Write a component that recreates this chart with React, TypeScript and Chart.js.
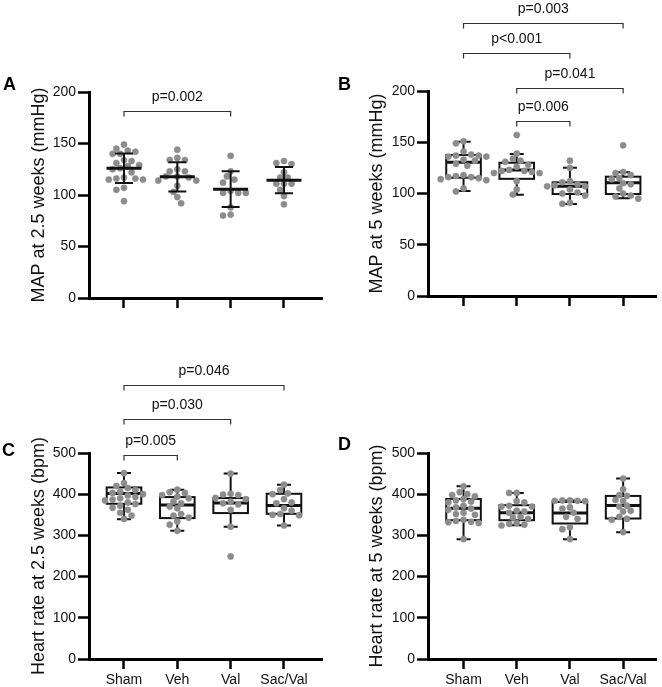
import React, { useEffect, useRef } from 'react';
import { Chart, registerables } from 'chart.js';

Chart.register(...registerables);

const FONT = "'Liberation Sans', Arial, Helvetica, sans-serif";

const groups = ['Sham', 'Veh', 'Val', 'Sac/Val'];

// ---- A: MAP at 2.5 weeks (mmHg), mean ± SD ----
const mapWk25Sham = [149, 145, 143, 142, 140, 140, 134, 133, 131, 129, 128, 126, 125, 122, 117, 116, 116, 115, 115, 107, 105, 94];
const mapWk25Veh = [144, 136, 134, 134, 125, 123, 123, 118, 118, 117, 114, 114, 109, 103, 98, 92];
const mapWk25Val = [138, 123, 118, 115, 112, 104, 102, 102, 102, 88, 81, 80];
const mapWk25SacVal = [133, 131, 130, 122, 117, 117, 111, 111, 111, 105, 99, 91];
const mapWk25Mean = [126, 117.6, 105.7, 114.4];
const mapWk25Sd = [14.4, 14.3, 17.4, 12.7];

// ---- B: MAP at 5 weeks (mmHg), box & whiskers ----
const mapWk5Sham = [151, 149, 141, 138, 137, 137, 136, 136, 133, 132, 129, 127, 118, 117, 116, 116, 115, 114, 113, 105, 102];
const mapWk5Veh = [157, 139, 134, 132, 131, 128, 126, 123, 122, 122, 121, 120, 120, 112, 104, 99];
const mapWk5Val = [132, 125, 112, 111, 109, 108, 107, 107, 104, 101, 100, 98, 91, 90];
const mapWk5SacVal = [147, 121, 120, 118, 115, 114, 110, 109, 105, 100, 98, 97, 95];
const mapWk5Lo = [102.4, 98.8, 89.8, 95.3];
const mapWk5Q1 = [115.4, 114.3, 99.5, 99.5];
const mapWk5Med = [130.4, 122.9, 107, 110.5];
const mapWk5Q3 = [137.6, 130, 110.9, 116.4];
const mapWk5Hi = [150.5, 138.5, 125.2, 120.7];

// ---- C: Heart rate at 2.5 weeks (bpm) ----
const hrWk25Sham = [451, 427, 420, 415, 410, 406, 403, 400, 397, 393, 390, 387, 385, 380, 376, 372, 367, 362, 355, 348, 340];
const hrWk25Veh = [411, 405, 403, 398, 394, 390, 382, 378, 370, 366, 352, 348, 343, 334, 326, 311];
const hrWk25Val = [450, 401, 399, 398, 391, 388, 382, 378, 375, 362, 321, 249];
const hrWk25SacVal = [423, 410, 402, 400, 388, 380, 378, 366, 360, 352, 350, 349, 324];
const hrWk25Lo = [339.5, 311.1, 320.9, 324];
const hrWk25Q1 = [376.8, 342, 354.2, 352.4];
const hrWk25Med = [401.8, 373.6, 378.4, 372.7];
const hrWk25Q3 = [416.4, 393, 390.6, 401];
const hrWk25Hi = [451.4, 410.8, 450.4, 423];

// ---- D: Heart rate at 5 weeks (bpm) ----
const hrWk5Sham = [419, 405, 400, 398, 395, 388, 385, 382, 380, 372, 368, 365, 362, 355, 352, 350, 338, 335, 333, 332, 330, 291];
const hrWk5Veh = [403, 403, 383, 380, 372, 370, 370, 360, 358, 355, 345, 343, 340, 330, 328, 326, 324];
const hrWk5Val = [385, 385, 384, 384, 383, 368, 365, 355, 345, 340, 320, 315, 291];
const hrWk5SacVal = [438, 412, 398, 396, 386, 384, 372, 370, 360, 358, 345, 340, 338, 308];
const hrWk5Lo = [290.8, 324.8, 290.8, 307.8];
const hrWk5Q1 = [336.9, 336.9, 328.9, 341];
const hrWk5Med = [366, 355, 354.2, 372.5];
const hrWk5Q3 = [388.5, 373.3, 381.3, 395.8];
const hrWk5Hi = [419.3, 403, 384.6, 438];

// ---- significance brackets: group indices, bracket height (axis units), label ----
const bracketsA = [{ from: 0, to: 2, level: 181.6, label: 'p=0.002' }];
const bracketsB = [
  { from: 0, to: 3, level: 266.6, label: 'p=0.003' },
  { from: 0, to: 2, level: 236.8, label: 'p<0.001' },
  { from: 1, to: 3, level: 202.6, label: 'p=0.041' },
  { from: 1, to: 2, level: 171, label: 'p=0.006' },
];
const bracketsC = [
  { from: 0, to: 3, level: 664, label: 'p=0.046' },
  { from: 0, to: 2, level: 583.4, label: 'p=0.030' },
  { from: 0, to: 1, level: 494.2, label: 'p=0.005' },
];

type Bracket = { from: number; to: number; level: number; label: string };
type Summary =
  | { kind: 'mean'; mean: number[]; sd: number[] }
  | { kind: 'box'; lo: number[]; q1: number[]; med: number[]; q3: number[]; hi: number[] };

type PanelDef = {
  letter: string;
  yTitle: string;
  yMax: number;
  yStep: number;
  series: number[][];
  summary: Summary;
  brackets: Bracket[];
  showXLabels: boolean;
  frame: { left: number; top: number; width: number; height: number };
  area: { left: number; right: number; top: number; bottom: number };
  xMin: number;
  xMax: number;
  letterPos: { x: number; y: number };
  titlePad: number;
};

const panels: PanelDef[] = [
  {
    letter: 'A',
    yTitle: 'MAP at 2.5 weeks (mmHg)',
    yMax: 200,
    yStep: 50,
    series: [mapWk25Sham, mapWk25Veh, mapWk25Val, mapWk25SacVal],
    summary: { kind: 'mean', mean: mapWk25Mean, sd: mapWk25Sd },
    brackets: bracketsA,
    showXLabels: false,
    frame: { left: 0, top: 0, width: 331, height: 335 },
    area: { left: 89, right: 322, top: 92, bottom: 298 },
    xMin: -0.656,
    xMax: 3.713,
    letterPos: { x: 3, y: 89.5 },
    titlePad: 28,
  },
  {
    letter: 'B',
    yTitle: 'MAP at 5 weeks (mmHg)',
    yMax: 200,
    yStep: 50,
    series: [mapWk5Sham, mapWk5Veh, mapWk5Val, mapWk5SacVal],
    summary: { kind: 'box', lo: mapWk5Lo, q1: mapWk5Q1, med: mapWk5Med, q3: mapWk5Q3, hi: mapWk5Hi },
    brackets: bracketsB,
    showXLabels: false,
    frame: { left: 331, top: 0, width: 331, height: 335 },
    area: { left: 97, right: 325, top: 91, bottom: 296 },
    xMin: -0.668,
    xMax: 3.618,
    letterPos: { x: 7, y: 89.5 },
    titlePad: 35.5,
  },
  {
    letter: 'C',
    yTitle: 'Heart rate at 2.5 weeks (bpm)',
    yMax: 500,
    yStep: 100,
    series: [hrWk25Sham, hrWk25Veh, hrWk25Val, hrWk25SacVal],
    summary: { kind: 'box', lo: hrWk25Lo, q1: hrWk25Q1, med: hrWk25Med, q3: hrWk25Q3, hi: hrWk25Hi },
    brackets: bracketsC,
    showXLabels: true,
    frame: { left: 0, top: 335, width: 331, height: 352 },
    area: { left: 89, right: 322, top: 118, bottom: 324 },
    xMin: -0.656,
    xMax: 3.713,
    letterPos: { x: 2, y: 121 },
    titlePad: 28,
  },
  {
    letter: 'D',
    yTitle: 'Heart rate at 5 weeks (bpm)',
    yMax: 500,
    yStep: 100,
    series: [hrWk5Sham, hrWk5Veh, hrWk5Val, hrWk5SacVal],
    summary: { kind: 'box', lo: hrWk5Lo, q1: hrWk5Q1, med: hrWk5Med, q3: hrWk5Q3, hi: hrWk5Hi },
    brackets: [],
    showXLabels: true,
    frame: { left: 331, top: 335, width: 331, height: 352 },
    area: { left: 97, right: 325, top: 118, bottom: 324 },
    xMin: -0.668,
    xMax: 3.618,
    letterPos: { x: 7, y: 115 },
    titlePad: 35.5,
  },
];

// Spread points of one group sideways (half-step grid) so dots do not sit on each other.
function swarmOffsets(values: number[], pxPerY: number, pxPerX: number): number[] {
  const step = 3.8;
  const minDist = 6.2;
  const order = values.map((_, i) => i).sort((a, b) => values[b] - values[a]);
  const placed: { x: number; y: number }[] = [];
  const out = new Array(values.length).fill(0);
  let side = -1;
  for (const i of order) {
    const y = values[i] * pxPerY;
    let chosen = 0;
    for (let k = 0; k < 40; k++) {
      const cands = k === 0 ? [0] : [side * k * step, -side * k * step];
      let found: number | null = null;
      for (const c of cands) {
        if (placed.every((p) => (p.x - c) ** 2 + (p.y - y) ** 2 >= minDist * minDist)) {
          found = c;
          break;
        }
      }
      if (found !== null) {
        chosen = found;
        break;
      }
    }
    if (chosen !== 0) side = chosen > 0 ? -1 : 1;
    placed.push({ x: chosen, y });
    out[i] = chosen / pxPerX;
  }
  return out;
}

const decorPlugin = {
  id: 'panelDecor',
  beforeDatasetsDraw(chart: any) {
    const p: PanelDef = chart.options.plugins.panelDecor.panel;
    if (p.summary.kind !== 'box') return;
    const s = p.summary;
    const { ctx } = chart;
    const xs = chart.scales.x;
    const ys = chart.scales.y;
    ctx.save();
    ctx.strokeStyle = '#111';
    ctx.lineCap = 'butt';
    for (let g = 0; g < groups.length; g++) {
      const cx = xs.getPixelForValue(g);
      const yLo = ys.getPixelForValue(s.lo[g]);
      const yQ1 = ys.getPixelForValue(s.q1[g]);
      const yMed = ys.getPixelForValue(s.med[g]);
      const yQ3 = ys.getPixelForValue(s.q3[g]);
      const yHi = ys.getPixelForValue(s.hi[g]);
      const half = 17.3;
      const cap = 7;
      ctx.lineWidth = 2;
      ctx.beginPath();
      ctx.moveTo(cx, yQ3);
      ctx.lineTo(cx, yHi);
      ctx.moveTo(cx, yQ1);
      ctx.lineTo(cx, yLo);
      ctx.moveTo(cx - cap, yHi);
      ctx.lineTo(cx + cap, yHi);
      ctx.moveTo(cx - cap, yLo);
      ctx.lineTo(cx + cap, yLo);
      ctx.stroke();
      ctx.strokeRect(cx - half, yQ3, half * 2, yQ1 - yQ3);
      ctx.lineWidth = 3;
      ctx.beginPath();
      ctx.moveTo(cx - half, yMed);
      ctx.lineTo(cx + half, yMed);
      ctx.stroke();
    }
    ctx.restore();
  },
  afterDatasetsDraw(chart: any) {
    const p: PanelDef = chart.options.plugins.panelDecor.panel;
    const { ctx } = chart;
    const xs = chart.scales.x;
    const ys = chart.scales.y;
    ctx.save();
    if (p.summary.kind === 'mean') {
      const s = p.summary;
      ctx.strokeStyle = '#111';
      for (let g = 0; g < groups.length; g++) {
        const cx = xs.getPixelForValue(g);
        const yM = ys.getPixelForValue(s.mean[g]);
        const yHi = ys.getPixelForValue(s.mean[g] + s.sd[g]);
        const yLo = ys.getPixelForValue(s.mean[g] - s.sd[g]);
        ctx.lineWidth = 2;
        ctx.beginPath();
        ctx.moveTo(cx, yHi);
        ctx.lineTo(cx, yLo);
        ctx.moveTo(cx - 9, yHi);
        ctx.lineTo(cx + 9, yHi);
        ctx.moveTo(cx - 9, yLo);
        ctx.lineTo(cx + 9, yLo);
        ctx.stroke();
        ctx.lineWidth = 3;
        ctx.beginPath();
        ctx.moveTo(cx - 17.5, yM);
        ctx.lineTo(cx + 17.5, yM);
        ctx.stroke();
      }
    }
    // significance brackets
    ctx.strokeStyle = '#333';
    ctx.fillStyle = '#111';
    ctx.lineWidth = 1.2;
    ctx.font = `14px ${FONT}`;
    ctx.textAlign = 'center';
    ctx.textBaseline = 'alphabetic';
    for (const b of p.brackets) {
      const x1 = xs.getPixelForValue(b.from);
      const x2 = xs.getPixelForValue(b.to);
      const y = Math.round(ys.getPixelForValue(b.level)) + 0.5;
      ctx.beginPath();
      ctx.moveTo(x1, y + 5);
      ctx.lineTo(x1, y);
      ctx.lineTo(x2, y);
      ctx.lineTo(x2, y + 5);
      ctx.stroke();
      ctx.fillText(b.label, (x1 + x2) / 2, y - 10.5);
    }
    // panel letter
    ctx.font = `bold 18px ${FONT}`;
    ctx.textAlign = 'left';
    ctx.fillStyle = '#000';
    ctx.fillText(p.letter, p.letterPos.x, p.letterPos.y);
    ctx.restore();
  },
};

function Panel({ p }: { p: PanelDef }) {
  const ref = useRef<HTMLCanvasElement | null>(null);
  useEffect(() => {
    const canvas = ref.current;
    if (!canvas) return;
    const { frame, area } = p;
    const pxPerY = (area.bottom - area.top) / p.yMax;
    const pxPerX = (area.right - area.left) / (p.xMax - p.xMin);
    const pts: { x: number; y: number }[] = [];
    p.series.forEach((vals, g) => {
      const offs = swarmOffsets(vals, pxPerY, pxPerX);
      vals.forEach((v, i) => pts.push({ x: g + offs[i], y: v }));
    });
    const tickFont = { family: FONT, size: 14 };
    const chart = new Chart(canvas, {
      type: 'scatter',
      data: {
        datasets: [
          {
            data: pts,
            pointRadius: 3.1,
            pointBackgroundColor: '#8c8c8c',
            pointBorderColor: '#8c8c8c',
            pointBorderWidth: 0.5,
            showLine: false,
            clip: false,
          } as any,
        ],
      },
      options: {
        animation: false,
        responsive: false,
        maintainAspectRatio: false,
        events: [],
        layout: {
          padding: { top: area.top, right: frame.width - area.right, left: 0, bottom: 0 },
        },
        plugins: {
          legend: { display: false },
          tooltip: { enabled: false },
          panelDecor: { panel: p },
        } as any,
        scales: {
          x: {
            type: 'linear',
            min: p.xMin,
            max: p.xMax,
            afterBuildTicks: (ax: any) => {
              ax.ticks = groups.map((_, i) => ({ value: i }));
            },
            afterFit: (ax: any) => {
              ax.height = frame.height - area.bottom;
            },
            grid: {
              display: true,
              drawOnChartArea: false,
              drawTicks: true,
              tickLength: 10,
              tickWidth: 2.5,
              tickColor: '#000',
            },
            border: { display: true, width: 3, color: '#000' },
            ticks: {
              autoSkip: false,
              maxRotation: 0,
              padding: 3,
              color: '#111',
              font: tickFont,
              callback: (v: any) => (p.showXLabels ? groups[Math.round(Number(v))] : ''),
            },
          },
          y: {
            type: 'linear',
            min: 0,
            max: p.yMax,
            afterFit: (ax: any) => {
              ax.width = area.left;
            },
            grid: {
              display: true,
              drawOnChartArea: false,
              drawTicks: true,
              tickLength: 11,
              tickWidth: 2.5,
              tickColor: '#000',
            },
            border: { display: true, width: 3, color: '#000' },
            ticks: {
              stepSize: p.yStep,
              padding: 2,
              color: '#111',
              font: tickFont,
            },
            title: {
              display: true,
              text: p.yTitle,
              color: '#111',
              font: { family: FONT, size: 18 },
              padding: { top: p.titlePad, bottom: 0 },
            },
          },
        },
      } as any,
      plugins: [decorPlugin],
    });
    return () => chart.destroy();
  }, [p]);
  return (
    <canvas
      ref={ref}
      width={p.frame.width}
      height={p.frame.height}
      style={{
        position: 'absolute',
        left: p.frame.left,
        top: p.frame.top,
        width: p.frame.width,
        height: p.frame.height,
        display: 'block',
      }}
    />
  );
}

export default function App() {
  return (
    <div
      style={{
        position: 'absolute',
        left: 0,
        top: 0,
        width: 662,
        height: 687,
        background: '#fff',
        overflow: 'hidden',
      }}
    >
      {panels.map((p) => (
        <Panel key={p.letter} p={p} />
      ))}
    </div>
  );
}
